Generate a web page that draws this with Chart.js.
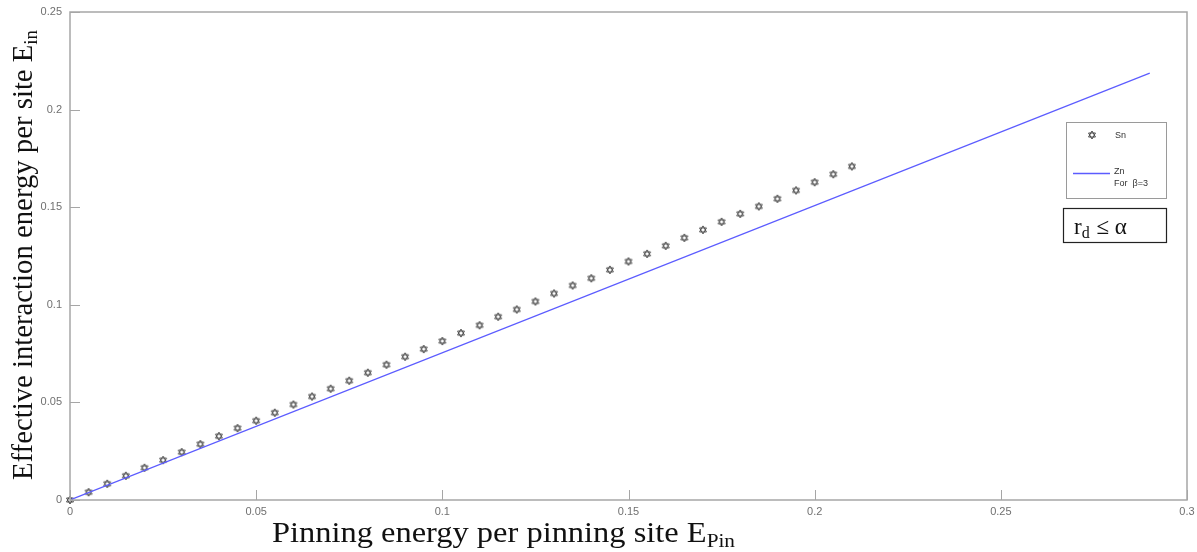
<!DOCTYPE html>
<html>
<head>
<meta charset="utf-8">
<script src="https://cdn.jsdelivr.net/npm/chart.js@4"></script>
<style>
html,body{margin:0;padding:0;background:#fff;}
#wrap{width:1197px;height:552px;position:relative;}
</style>
</head>
<body>
<div id="wrap"><canvas id="c" width="1197" height="552"></canvas></div>
<script>
// ---- data ----
const snX = [0,0.005,0.01,0.015,0.02,0.025,0.03,0.035,0.04,0.045,0.05,0.055,0.06,0.065,0.07,0.075,0.08,0.085,0.09,0.095,0.1,0.105,0.11,0.115,0.12,0.125,0.13,0.135,0.14,0.145,0.15,0.155,0.16,0.165,0.17,0.175,0.18,0.185,0.19,0.195,0.2,0.205,0.21];
const snY = [0,0.0040,0.0083,0.0124,0.0165,0.0204,0.0245,0.0286,0.0327,0.0368,0.0406,0.0447,0.0489,0.0530,0.0570,0.0611,0.0652,0.0693,0.0734,0.0773,0.0814,0.0855,0.0895,0.0939,0.0976,0.1017,0.1058,0.1099,0.1136,0.1179,0.1222,0.1261,0.1302,0.1343,0.1384,0.1425,0.1466,0.1504,0.1543,0.1586,0.1628,0.1669,0.1709];
const znX = [0,0.29];
const znY = [0,0.2187];
const xTicks = [0,0.05,0.1,0.15,0.2,0.25,0.3];
const xTickLabels = ['0','0.05','0.1','0.15','0.2','0.25','0.3'];
const yTicks = [0,0.05,0.1,0.15,0.2,0.25];
const yTickLabels = ['0','0.05','0.1','0.15','0.2','0.25'];

// hexagram marker
function hexagram(size){
  const cv=document.createElement('canvas');
  cv.width=size; cv.height=size;
  const g=cv.getContext('2d');
  const c=size/2, r=size/2-1;
  g.strokeStyle='#4a4a4a'; g.lineWidth=1;
  for(let t=0;t<2;t++){
    g.beginPath();
    for(let i=0;i<3;i++){
      const a=-Math.PI/2 + t*Math.PI + i*2*Math.PI/3;
      const px=c+r*Math.cos(a), py=c+r*Math.sin(a);
      if(i===0) g.moveTo(px,py); else g.lineTo(px,py);
    }
    g.closePath(); g.stroke();
  }
  return cv;
}
const marker = hexagram(10);

const AXC = '#a6a6a6';
const SERIF = '"Liberation Serif", "DejaVu Serif", serif';
const decor = {
  id:'decor',
  afterDraw(chart){
    const {ctx, chartArea:a, scales:{x,y}} = chart;
    ctx.save();
    // box
    ctx.strokeStyle=AXC; ctx.lineWidth=1.5;
    ctx.strokeRect(a.left, a.top, a.right-a.left, a.bottom-a.top);
    // inward ticks
    ctx.lineWidth=1;
    xTicks.forEach(v=>{const px=Math.round(x.getPixelForValue(v))+0.5;
      ctx.beginPath();ctx.moveTo(px,a.bottom);ctx.lineTo(px,a.bottom-10);ctx.stroke();});
    yTicks.forEach(v=>{const py=Math.round(y.getPixelForValue(v))+0.5;
      ctx.beginPath();ctx.moveTo(a.left,py);ctx.lineTo(a.left+10,py);ctx.stroke();});
    ctx.fillStyle='#111';
    // x title (target span 272..735)
    ctx.textBaseline='alphabetic'; ctx.textAlign='left';
    const f1='29px '+SERIF;
    const f2='19px '+SERIF;
    ctx.font=f1;
    const xt='Pinning energy per pinning site E';
    let w1=ctx.measureText(xt).width; ctx.font=f2; let w2=ctx.measureText('Pin').width;
    const sxScale = 463/(w1+w2);
    ctx.save();
    ctx.translate(272,542); ctx.scale(sxScale,1);
    ctx.font=f1; ctx.fillText(xt,0,0);
    ctx.font=f2; ctx.fillText('Pin',w1,5);
    ctx.restore();
    // y title (target span y 480..30)
    ctx.save();
    ctx.font=f1;
    const yt='Effective interaction energy per site E';
    const v1=ctx.measureText(yt).width; ctx.font=f2; const v2=ctx.measureText('in').width;
    const syScale = 450/(v1+v2);
    ctx.translate(32,480); ctx.rotate(-Math.PI/2); ctx.scale(syScale,1);
    ctx.font=f1; ctx.fillText(yt,0,0);
    ctx.font=f2; ctx.fillText('in',v1,5);
    ctx.restore();
    // legend box
    ctx.strokeStyle='#9a9a9a'; ctx.lineWidth=1;
    ctx.fillStyle='#fff';
    ctx.fillRect(1066.5,122.5,100,76); ctx.strokeRect(1066.5,122.5,100,76);
    ctx.drawImage(marker,1087,130);
    ctx.fillStyle='#333'; ctx.font='9px "Liberation Sans", Arial, sans-serif';
    ctx.textBaseline='middle';
    ctx.fillText('Sn',1115,136);
    ctx.strokeStyle='#5c5cff'; ctx.lineWidth=1.5;
    ctx.beginPath(); ctx.moveTo(1073,173.5); ctx.lineTo(1110,173.5); ctx.stroke();
    ctx.fillText('Zn',1114,172);
    ctx.fillText('For  \u03b2=3',1114,184);
    // rd box
    ctx.strokeStyle='#222'; ctx.lineWidth=1.2;
    ctx.strokeRect(1063.5,208.5,103,34);
    ctx.fillStyle='#111'; ctx.textBaseline='alphabetic';
    ctx.font='23px '+SERIF;
    ctx.fillText('r',1074,234);
    const rw=ctx.measureText('r').width;
    ctx.font='16px '+SERIF;
    ctx.fillText('d',1074+rw,238);
    const dw=ctx.measureText('d').width;
    ctx.font='23px '+SERIF;
    ctx.fillText(' \u2264 \u03b1',1074+rw+dw+1,234);
    ctx.restore();
  }
};

new Chart(document.getElementById('c'),{
  type:'scatter',
  data:{datasets:[
    {label:'Zn For β=3', type:'line', data:znX.map((v,i)=>({x:v,y:znY[i]})),
     borderColor:'#5c5cff', borderWidth:1.2, pointRadius:0, fill:false, tension:0},
    {label:'Sn', data:snX.map((v,i)=>({x:v,y:snY[i]})),
     pointStyle:marker, pointRadius:5, showLine:false, clip:false}
  ]},
  plugins:[decor],
  options:{
    responsive:false, animation:false, devicePixelRatio:1,
    layout:{padding:{left:0,right:10,top:12,bottom:0}},
    plugins:{legend:{display:false},tooltip:{enabled:false}},
    scales:{
      x:{type:'linear',min:0,max:0.3,
         afterBuildTicks(s){s.ticks=xTicks.map(v=>({value:v}));},
         afterFit(s){s.height=52; s.paddingLeft=0; s.paddingRight=0;},
         grid:{display:false,drawTicks:false}, border:{display:false},
         ticks:{padding:5,color:'#707070',font:{family:'"Liberation Sans", Arial, sans-serif',size:11},
           maxRotation:0,autoSkip:false,
           callback:(v,i)=>xTickLabels[i]}},
      y:{type:'linear',min:0,max:0.25,
         afterBuildTicks(s){s.ticks=yTicks.map(v=>({value:v}));},
         afterFit(s){s.width=70; s.paddingTop=0; s.paddingBottom=0;},
         grid:{display:false,drawTicks:false}, border:{display:false},
         ticks:{padding:8,color:'#707070',font:{family:'"Liberation Sans", Arial, sans-serif',size:11},
           autoSkip:false,
           callback:(v,i)=>yTickLabels[i]}}
    }
  }
});
</script>
</body>
</html>
